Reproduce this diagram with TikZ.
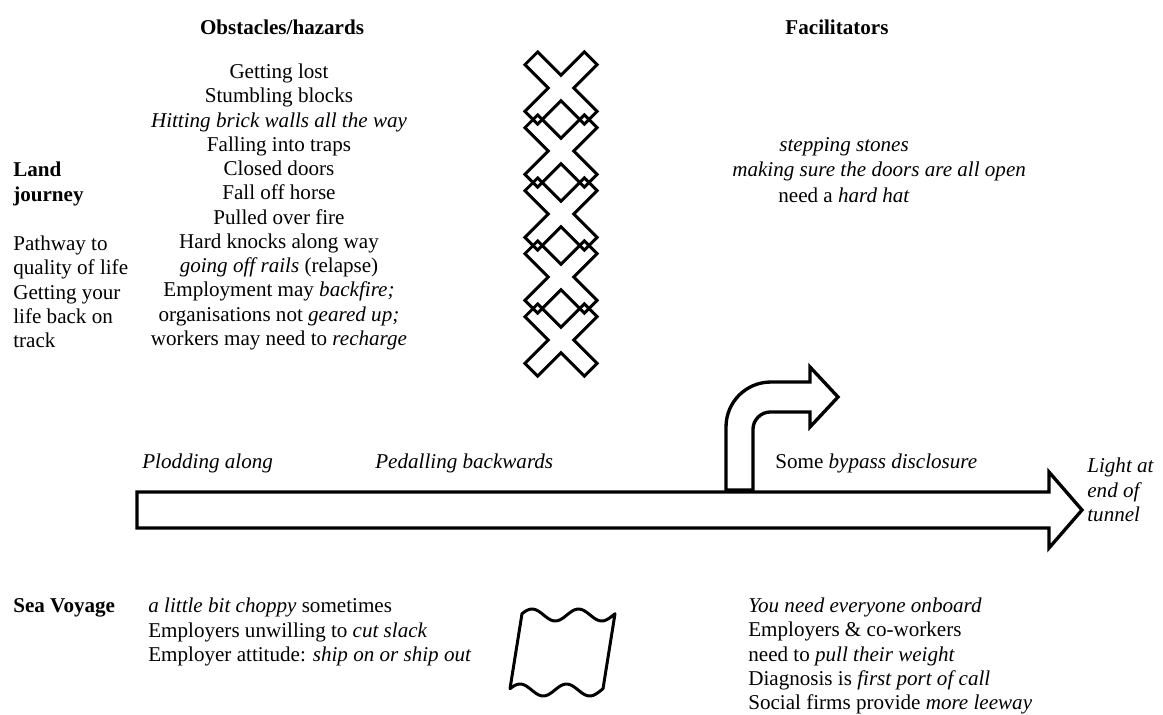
\documentclass[tikz,border=0pt]{standalone}
\usepackage{fontspec}
\setmainfont{Liberation Serif}
\usetikzlibrary{positioning}
\newcommand{\fs}{\fontsize{12}{13.8}\selectfont}
\tikzstyle{heading} = [font=\fs\bfseries, inner sep=0pt]
\tikzstyle{txt} = [font=\fs, inner sep=0pt, anchor=west, align=left]
\tikzstyle{list} = [font=\fs, inner sep=0pt, align=center]
\tikzstyle{xmark} = [line width=1.7pt, line join=miter]
\tikzstyle{outline} = [line width=1.9pt, line join=miter]
\tikzstyle{flag} = [line width=1.7pt, line join=round]

\begin{document}
\begin{tikzpicture}[x=0.02cm, y=-0.02cm]
\useasboundingbox (0,0) rectangle (1163,714);

\node (obst) [heading] at (282,27) {Obstacles/hazards};
\node (facil) [heading] at (837,27) {Facilitators};

\node (hazards) [list] at (279,207) {Getting lost\\Stumbling blocks\\\textit{Hitting brick walls all the way}\\Falling into traps\\Closed doors\\Fall off horse\\Pulled over fire\\Hard knocks along way\\\textit{going off rails} (relapse)\\Employment may \textit{backfire;}\\organisations not \textit{geared up;}\\workers may need to \textit{recharge}};

\node (land) [heading, anchor=west, align=left] at (13,184) {Land\\journey};
\node (pathway) [txt] at (13,292) {Pathway to\\quality of life\\Getting your\\life back on\\track};

% facilitators
\node (stones) [txt] at (779,147) {\textit{stepping stones}};
\node (doors) [txt] at (732,171) {\textit{making sure the doors are all open}};
\node (hat) [txt] at (778,195) {need a \textit{hard hat}};

% crosses
\foreach \cy in {88,151,214,277,340}
  \draw [xmark, shift={(561,\cy)}, rotate=45] (9,9) -- (42,9) -- (42,-9) -- (9,-9) -- (9,-42) -- (-9,-42) -- (-9,-9) -- (-42,-9) -- (-42,9) -- (-9,9) -- (-9,42) -- (9,42) -- cycle;

% the road
\draw [outline] (137,492) -- (1049,492) -- (1049,472) -- (1082,510) -- (1049,548) -- (1049,528) -- (137,528) -- cycle;
\draw [outline, fill=white] (726,490) -- (726,427) .. controls (726,402) and (746,382) .. (771,382) -- (810,382) -- (810,367) -- (838,397) -- (810,427) -- (810,412) -- (770,412) .. controls (761,412) and (753,420) .. (753,429) -- (753,490) -- cycle;

\node (plod) [txt] at (142,463) {\textit{Plodding along}};
\node (pedal) [txt] at (375,463) {\textit{Pedalling backwards}};
\node (bypass) [txt] at (775,463) {Some \textit{bypass disclosure}};
\node (light) [txt] at (1087,490) {\textit{Light at}\\\textit{end of}\\\textit{tunnel}};

% sea voyage
\node (sea) [heading, anchor=west] at (13,608) {Sea Voyage};
\node (choppy) [txt] at (148,632) {\textit{a little bit choppy} sometimes\\Employers unwilling to \textit{cut slack}\\Employer attitude: \textit{ship on or ship out}};
\draw [flag] plot[domain=0:93, samples=40] ({522+\x},{615-6*sin(7.74*\x+12.6)}) -- plot[domain=93:0, samples=40] ({510+\x},{690-6*sin(7.74*\x+12.6)}) -- cycle;
\node (onboard) [txt] at (748,656) {\textit{You need everyone onboard}\\Employers \& co-workers\\need to \textit{pull their weight}\\Diagnosis is \textit{first port of call}\\Social firms provide \textit{more leeway}};

\end{tikzpicture}
\end{document}
